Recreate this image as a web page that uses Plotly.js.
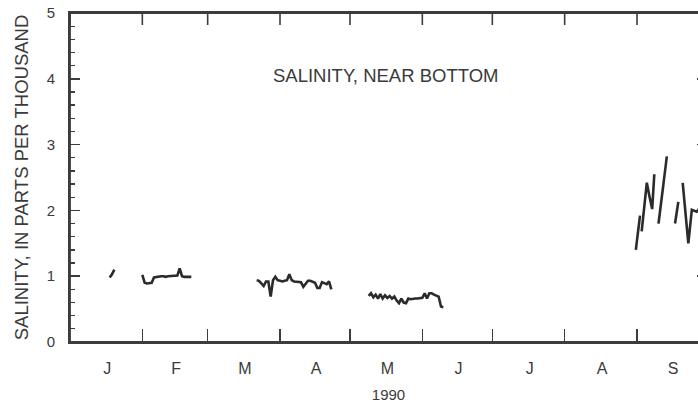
<!DOCTYPE html>
<html>
<head>
<meta charset="utf-8">
<script src="https://cdn.plot.ly/plotly-3.0.1.min.js"></script>
<style>
html,body{margin:0;padding:0;overflow:hidden;background:#fff;}
#chart{width:720px;height:403px;}
</style>
</head>
<body>
<div id="chart"></div>
<script>
// ---- tick labels / axis data ----
var monthStarts = ['1990-01-01','1990-02-01','1990-03-01','1990-04-01','1990-05-01','1990-06-01','1990-07-01','1990-08-01','1990-09-01','1990-10-01'];
var monthMids = ['1990-01-17','1990-02-15 12:00','1990-03-17','1990-04-16 12:00','1990-05-17','1990-06-16 12:00','1990-07-17','1990-08-17','1990-09-16 12:00'];
var monthLetters = ['J','F','M','A','M','J','J','A','S'];
var yearLabel = '1990';

// ---- series: salinity near bottom (ppt) ----
var janDates = ['1990-01-18','1990-01-19','1990-01-20'];
var janVals  = [0.98, 1.03, 1.10];

var febDates = ['1990-02-01','1990-02-02','1990-02-03','1990-02-04','1990-02-05','1990-02-06','1990-02-07','1990-02-08','1990-02-09','1990-02-10','1990-02-11','1990-02-12','1990-02-13','1990-02-14','1990-02-15','1990-02-16','1990-02-17','1990-02-18','1990-02-19','1990-02-20','1990-02-21','1990-02-22'];
var febVals  = [1.02, 0.90, 0.89, 0.89, 0.90, 0.98, 0.99, 0.99, 1.00, 1.00, 0.99, 1.00, 1.00, 1.00, 1.00, 1.01, 1.12, 1.00, 0.99, 0.99, 1.00, 0.99];

var marDates = ['1990-03-22','1990-03-23','1990-03-24','1990-03-25','1990-03-26','1990-03-27','1990-03-28','1990-03-29','1990-03-30','1990-03-31','1990-04-01','1990-04-02','1990-04-03','1990-04-04','1990-04-05','1990-04-06','1990-04-07','1990-04-08','1990-04-09','1990-04-10','1990-04-11','1990-04-12','1990-04-13','1990-04-14','1990-04-15','1990-04-16','1990-04-17','1990-04-18','1990-04-19','1990-04-20','1990-04-21','1990-04-22','1990-04-23'];
var marVals  = [0.94, 0.93, 0.89, 0.85, 0.92, 0.92, 0.69, 0.94, 0.99, 0.94, 0.93, 0.92, 0.93, 0.94, 1.03, 0.94, 0.92, 0.92, 0.92, 0.91, 0.84, 0.89, 0.93, 0.93, 0.92, 0.90, 0.82, 0.82, 0.91, 0.90, 0.88, 0.92, 0.80];

var mayDates = ['1990-05-09','1990-05-10','1990-05-11','1990-05-12','1990-05-13','1990-05-14','1990-05-15','1990-05-16','1990-05-17','1990-05-18','1990-05-19','1990-05-20','1990-05-21','1990-05-22','1990-05-23','1990-05-24','1990-05-25','1990-05-26','1990-05-27','1990-05-28','1990-05-29','1990-05-30','1990-05-31','1990-06-01','1990-06-02','1990-06-03','1990-06-04','1990-06-05','1990-06-06','1990-06-07','1990-06-08','1990-06-09','1990-06-10'];
var mayVals  = [0.70, 0.74, 0.68, 0.72, 0.66, 0.73, 0.66, 0.71, 0.67, 0.70, 0.66, 0.69, 0.63, 0.59, 0.66, 0.60, 0.59, 0.66, 0.65, 0.66, 0.66, 0.66, 0.66, 0.67, 0.74, 0.66, 0.74, 0.74, 0.72, 0.70, 0.69, 0.54, 0.53];

var sepDatesA = ['1990-08-31 12:00','1990-09-01 10:00','1990-09-02 07:00'];
var sepValsA  = [1.40, 1.65, 1.92];
var sepDatesB = ['1990-09-03 00:00','1990-09-04 05:00','1990-09-05 05:00','1990-09-06 10:00','1990-09-07 12:00','1990-09-08 10:00'];
var sepValsB  = [1.68, 2.05, 2.42, 2.20, 2.02, 2.55];
var sepDatesC = ['1990-09-10 05:00','1990-09-12 00:00','1990-09-13 19:00'];
var sepValsC  = [1.80, 2.30, 2.82];
var sepDatesD = ['1990-09-17 07:00','1990-09-18 17:00'];
var sepValsD  = [1.80, 2.13];
var sepDatesE = ['1990-09-20 14:00','1990-09-21 19:00','1990-09-23 00:00','1990-09-24 12:00','1990-09-26 14:00','1990-09-27 12:00'];
var sepValsE  = [2.42, 2.00, 1.50, 2.01, 1.98, 2.02];

var segDates = [janDates, febDates, marDates, mayDates, sepDatesA, sepDatesB, sepDatesC, sepDatesD, sepDatesE];
var segVals  = [janVals, febVals, marVals, mayVals, sepValsA, sepValsB, sepValsC, sepValsD, sepValsE];

var xs = [], ys = [];
segDates.forEach(function(d, i){
  if (i > 0) { xs.push(null); ys.push(null); }
  xs = xs.concat(d); ys = ys.concat(segVals[i]);
});

var axisCol = '#3c3c3c';
var textCol = '#3a3a3a';
var fam = 'Liberation Sans, Arial, Helvetica, sans-serif';

var traces = [
  {x: xs, y: ys, type: 'scatter', mode: 'lines', connectgaps: false,
   line: {color: '#2b2b2b', width: 2.6}, hoverinfo: 'skip', showlegend: false},
  {x: [], y: [], type: 'scatter', mode: 'lines', xaxis: 'x2', yaxis: 'y', showlegend: false, hoverinfo: 'skip'}
];

var dateRange = ['1990-01-01', '1990-10-01'];
var plotH = 403 - 13 - 61;

// frame and top month ticks, built from the tick arrays
var shapes = [{
  type: 'rect', xref: 'paper', yref: 'paper', x0: 0, x1: 1, y0: 0, y1: 1,
  line: {color: axisCol, width: 1.8}, fillcolor: 'rgba(0,0,0,0)', layer: 'above'
}];
monthStarts.forEach(function(m){
  shapes.push({type: 'line', xref: 'x', yref: 'paper', x0: m, x1: m, y0: 1, y1: 1 - 12 / plotH,
               line: {color: axisCol, width: 1.6}, layer: 'above'});
});

var layout = {
  width: 720, height: 403,
  margin: {l: 70, r: 13, t: 13, b: 61},
  paper_bgcolor: '#ffffff', plot_bgcolor: '#ffffff',
  showlegend: false,
  font: {family: fam, color: textCol},
  shapes: shapes,
  xaxis: {
    type: 'date', range: dateRange,
    tickmode: 'array', tickvals: monthStarts, showticklabels: false,
    ticks: 'inside', ticklen: 13, tickwidth: 1.6, tickcolor: axisCol,
    showline: true, linecolor: axisCol, linewidth: 1.8, mirror: true,
    showgrid: false, zeroline: false, fixedrange: true
  },
  xaxis2: {
    type: 'date', range: dateRange, overlaying: 'x', anchor: 'y', side: 'bottom',
    tickmode: 'array', tickvals: monthMids, ticktext: monthLetters,
    ticks: '', showline: false, showgrid: false, zeroline: false,
    tickfont: {size: 16, color: textCol, family: fam}, ticklabelstandoff: 15,
    title: {text: yearLabel, font: {size: 15, color: textCol, family: fam}, standoff: 15}
  },
  yaxis: {
    range: [0, 5], tickmode: 'linear', tick0: 0, dtick: 1,
    ticks: 'inside', ticklen: 10, tickwidth: 1.6, tickcolor: axisCol,
    minor: {dtick: 0.2, tick0: 0, ticks: 'inside', ticklen: 5, tickwidth: 1.3, tickcolor: axisCol, showgrid: false},
    showline: true, linecolor: axisCol, linewidth: 1.8, mirror: 'ticks',
    showgrid: false, zeroline: false,
    tickfont: {size: 15, color: textCol, family: fam}, ticklabelstandoff: 10,
    title: {text: 'SALINITY, IN PARTS PER THOUSAND', font: {size: 18.5, color: textCol, family: fam}, standoff: 13}
  },
  annotations: [{
    text: 'SALINITY, NEAR BOTTOM', xref: 'paper', yref: 'paper', x: 0.496, y: 0.811,
    xanchor: 'center', yanchor: 'middle', showarrow: false,
    font: {size: 18.5, color: textCol, family: fam}
  }]
};

Plotly.newPlot('chart', traces, layout, {staticPlot: true, displayModeBar: false});
</script>
</body>
</html>
